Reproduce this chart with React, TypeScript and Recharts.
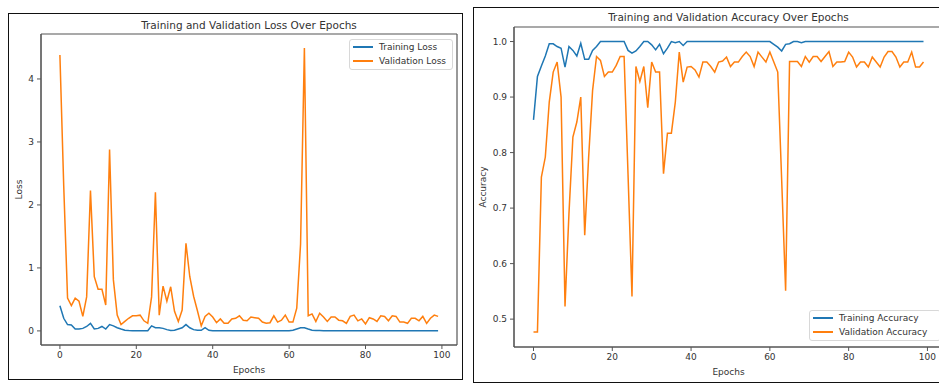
import { LineChart, Line, XAxis, YAxis, Legend, CartesianGrid } from 'recharts';

const epochs = Array.from({ length: 100 }, (_, i) => i);

const trainLoss = [
  0.4, 0.2, 0.1, 0.095, 0.03, 0.03, 0.04, 0.07, 0.12, 0.03,
  0.04, 0.07, 0.03, 0.1, 0.08, 0.05, 0.03, 0.012, 0.006, 0.004,
  0.003, 0.003, 0.003, 0.004, 0.08, 0.05, 0.05, 0.04, 0.02, 0.006,
  0.01, 0.03, 0.05, 0.1, 0.05, 0.02, 0.01, 0.01, 0.05, 0.01,
  0.004, 0.003, 0.003, 0.003, 0.002, 0.003, 0.002, 0.002, 0.003, 0.002,
  0.002, 0.002, 0.002, 0.002, 0.002, 0.002, 0.002, 0.002, 0.002, 0.002,
  0.003, 0.01, 0.03, 0.05, 0.05, 0.03, 0.012, 0.008, 0.005, 0.003,
  0.002, 0.002, 0.002, 0.002, 0.002, 0.002, 0.002, 0.002, 0.002, 0.002,
  0.002, 0.002, 0.002, 0.002, 0.002, 0.002, 0.002, 0.002, 0.002, 0.002,
  0.002, 0.002, 0.002, 0.002, 0.002, 0.002, 0.002, 0.002, 0.002, 0.002,
];

const valLoss = [
  4.38, 2.3, 0.52, 0.4, 0.52, 0.47, 0.23, 0.54, 2.23, 0.86,
  0.66, 0.66, 0.41, 2.88, 0.81, 0.25, 0.1, 0.15, 0.2, 0.24,
  0.24, 0.25, 0.16, 0.12, 0.54, 2.2, 0.25, 0.71, 0.47, 0.7,
  0.31, 0.15, 0.33, 1.39, 0.86, 0.55, 0.32, 0.08, 0.23, 0.28,
  0.22, 0.13, 0.19, 0.12, 0.12, 0.19, 0.2, 0.24, 0.17, 0.16,
  0.22, 0.21, 0.2, 0.14, 0.12, 0.13, 0.24, 0.14, 0.17, 0.25,
  0.14, 0.14, 0.36, 1.38, 4.49, 0.24, 0.27, 0.15, 0.28, 0.22,
  0.15, 0.22, 0.22, 0.17, 0.16, 0.12, 0.23, 0.25, 0.16, 0.19,
  0.11, 0.21, 0.19, 0.15, 0.24, 0.23, 0.16, 0.24, 0.23, 0.14,
  0.14, 0.12, 0.2, 0.2, 0.16, 0.23, 0.12, 0.2, 0.25, 0.23,
];

const trainAcc = [
  0.859, 0.937, 0.956, 0.974, 0.996, 0.996, 0.991, 0.988, 0.954, 0.991,
  0.984, 0.974, 0.997, 0.968, 0.968, 0.984, 0.991, 1.0, 1.0, 1.0,
  1.0, 1.0, 1.0, 1.0, 0.984, 0.979, 0.983, 0.991, 1.0, 1.0,
  0.994, 0.985, 0.995, 0.978, 0.988, 1.0, 0.998, 1.0, 0.993, 1.0,
  1.0, 1.0, 1.0, 1.0, 1.0, 1.0, 1.0, 1.0, 1.0, 1.0,
  1.0, 1.0, 1.0, 1.0, 1.0, 1.0, 1.0, 1.0, 1.0, 1.0,
  1.0, 0.995, 0.99, 0.983, 0.995, 0.996, 1.0, 1.0, 0.998, 1.0,
  1.0, 1.0, 1.0, 1.0, 1.0, 1.0, 1.0, 1.0, 1.0, 1.0,
  1.0, 1.0, 1.0, 1.0, 1.0, 1.0, 1.0, 1.0, 1.0, 1.0,
  1.0, 1.0, 1.0, 1.0, 1.0, 1.0, 1.0, 1.0, 1.0, 1.0,
];

const valAcc = [
  0.477, 0.477, 0.756, 0.792, 0.891, 0.945, 0.963, 0.9, 0.523, 0.69,
  0.828, 0.855, 0.9, 0.651, 0.792, 0.912, 0.973, 0.966, 0.937, 0.945,
  0.945, 0.957, 0.973, 0.973, 0.76, 0.541, 0.955, 0.928, 0.955, 0.881,
  0.963, 0.945, 0.945, 0.762, 0.835, 0.835, 0.891, 0.981, 0.927, 0.954,
  0.955, 0.949, 0.936, 0.963, 0.963, 0.955, 0.945, 0.963, 0.965, 0.972,
  0.955, 0.963, 0.963, 0.973, 0.981, 0.973, 0.955, 0.981, 0.972, 0.963,
  0.981, 0.963, 0.945, 0.75, 0.551, 0.964, 0.964, 0.964, 0.955, 0.973,
  0.963, 0.973, 0.973, 0.964, 0.973, 0.982, 0.955, 0.963, 0.963, 0.964,
  0.981, 0.972, 0.954, 0.963, 0.963, 0.954, 0.972, 0.963, 0.954, 0.972,
  0.982, 0.982, 0.972, 0.954, 0.963, 0.963, 0.981, 0.954, 0.954, 0.963,
];

const epochTicks = [0, 20, 40, 60, 80, 100];
const lossTicks = [0, 1, 2, 3, 4];
const accTicks = [0.5, 0.6, 0.7, 0.8, 0.9, 1.0];

const lossData = epochs.map((e, i) => ({ epoch: e, train: trainLoss[i], val: valLoss[i] }));
const accData = epochs.map((e, i) => ({ epoch: e, train: trainAcc[i], val: valAcc[i] }));

const BLUE = '#1f77b4';
const ORANGE = '#ff7f0e';
const SPINE = '#555';
const TEXT = '#333';
const xDomain: [number, number] = [-4.95, 103.95];

// matplotlib-like axes box: grid lines only on the plot edges
const frameH = ({ offset }: any) => [offset.top, offset.top + offset.height];
const frameV = ({ offset }: any) => [offset.left, offset.left + offset.width];

function MplLegend({ payload }: any) {
  return (
    <div
      style={{
        border: '1px solid #d8d8d8',
        borderRadius: 3,
        background: 'rgba(255,255,255,0.85)',
        padding: '0 4px 0 3px',
        boxSizing: 'border-box',
        width: '100%',
        height: '100%',
        fontSize: 9,
        color: TEXT,
      }}
    >
      {(payload || []).map((p: any) => (
        <div key={p.value} style={{ display: 'flex', alignItems: 'center', height: 14, whiteSpace: 'nowrap' }}>
          <span style={{ display: 'inline-block', width: 20, height: 2, background: p.color, marginRight: 6 }} />
          <span>{p.value}</span>
        </div>
      ))}
    </div>
  );
}

const tickStyle = { fontSize: 9, fill: TEXT };

export default function App() {
  return (
    <div
      style={{
        position: 'absolute',
        left: 0,
        top: 0,
        width: 939,
        height: 383,
        overflow: 'hidden',
        background: '#fff',
        fontFamily: '"DejaVu Sans", sans-serif',
      }}
    >
      {/* panel frames */}
      <div style={{ position: 'absolute', left: 8, top: 13, width: 455, height: 367, border: '1.5px solid #111', boxSizing: 'border-box' }} />
      <div style={{ position: 'absolute', left: 473, top: 7, width: 480, height: 376, border: '1.5px solid #111', boxSizing: 'border-box' }} />

      {/* loss */}
      <div style={{ position: 'absolute', left: 0, top: 0 }}>
        <LineChart width={470} height={383} data={lossData} margin={{ top: 34, right: 13, bottom: 0, left: 0 }}>
          <CartesianGrid stroke={SPINE} strokeWidth={1.2} horizontalCoordinatesGenerator={frameH} verticalCoordinatesGenerator={frameV} />
          <XAxis
            dataKey="epoch"
            type="number"
            domain={xDomain}
            allowDataOverflow
            ticks={epochTicks}
            height={38}
            tick={tickStyle}
            tickSize={4}
            tickMargin={3}
            stroke={SPINE}
            label={{ value: 'Epochs', position: 'insideBottom', offset: 10, fontSize: 9, fill: TEXT }}
          />
          <YAxis
            type="number"
            domain={[-0.224, 4.714]}
            allowDataOverflow
            ticks={lossTicks}
            width={41}
            tick={tickStyle}
            tickSize={4}
            tickMargin={3}
            stroke={SPINE}
            label={{ value: 'Loss', angle: -90, position: 'insideLeft', offset: 19, fontSize: 9, fill: TEXT, style: { textAnchor: 'middle' } }}
          />
          <Legend
            layout="vertical"
            align="center"
            verticalAlign="middle"
            content={<MplLegend />}
            wrapperStyle={{ left: 349, top: 39, width: 104, height: 31 }}
          />
          <Line name="Training Loss" dataKey="train" stroke={BLUE} strokeWidth={1.5} dot={false} type="linear" isAnimationActive={false} />
          <Line name="Validation Loss" dataKey="val" stroke={ORANGE} strokeWidth={1.5} dot={false} type="linear" isAnimationActive={false} />
        </LineChart>
        <div style={{ position: 'absolute', left: 41, top: 18, width: 416, textAlign: 'center', fontSize: 10.5, lineHeight: '14px', color: TEXT }}>
          Training and Validation Loss Over Epochs
        </div>
      </div>

      {/* accuracy */}
      <div style={{ position: 'absolute', left: 470, top: 0 }}>
        <LineChart width={480} height={383} data={accData} margin={{ top: 27, right: 7, bottom: 0, left: 0 }}>
          <CartesianGrid stroke={SPINE} strokeWidth={1.2} horizontalCoordinatesGenerator={frameH} verticalCoordinatesGenerator={frameV} />
          <XAxis
            dataKey="epoch"
            type="number"
            domain={xDomain}
            allowDataOverflow
            ticks={epochTicks}
            height={36}
            tick={tickStyle}
            tickSize={4}
            tickMargin={3}
            stroke={SPINE}
            label={{ value: 'Epochs', position: 'insideBottom', offset: 8, fontSize: 9, fill: TEXT }}
          />
          <YAxis
            type="number"
            domain={[0.4498, 1.0262]}
            allowDataOverflow
            ticks={accTicks}
            tickFormatter={(v: number) => v.toFixed(1)}
            width={44}
            tick={tickStyle}
            tickSize={4}
            tickMargin={3}
            stroke={SPINE}
            label={{ value: 'Accuracy', angle: -90, position: 'insideLeft', offset: 13, fontSize: 9, fill: TEXT, style: { textAnchor: 'middle' } }}
          />
          <Legend
            layout="vertical"
            align="center"
            verticalAlign="middle"
            content={<MplLegend />}
            wrapperStyle={{ left: 339, top: 310, width: 132, height: 31 }}
          />
          <Line name="Training Accuracy" dataKey="train" stroke={BLUE} strokeWidth={1.5} dot={false} type="linear" isAnimationActive={false} />
          <Line name="Validation Accuracy" dataKey="val" stroke={ORANGE} strokeWidth={1.5} dot={false} type="linear" isAnimationActive={false} />
        </LineChart>
        <div style={{ position: 'absolute', left: 44, top: 10, width: 429, textAlign: 'center', fontSize: 10.5, lineHeight: '14px', color: TEXT }}>
          Training and Validation Accuracy Over Epochs
        </div>
      </div>
    </div>
  );
}
